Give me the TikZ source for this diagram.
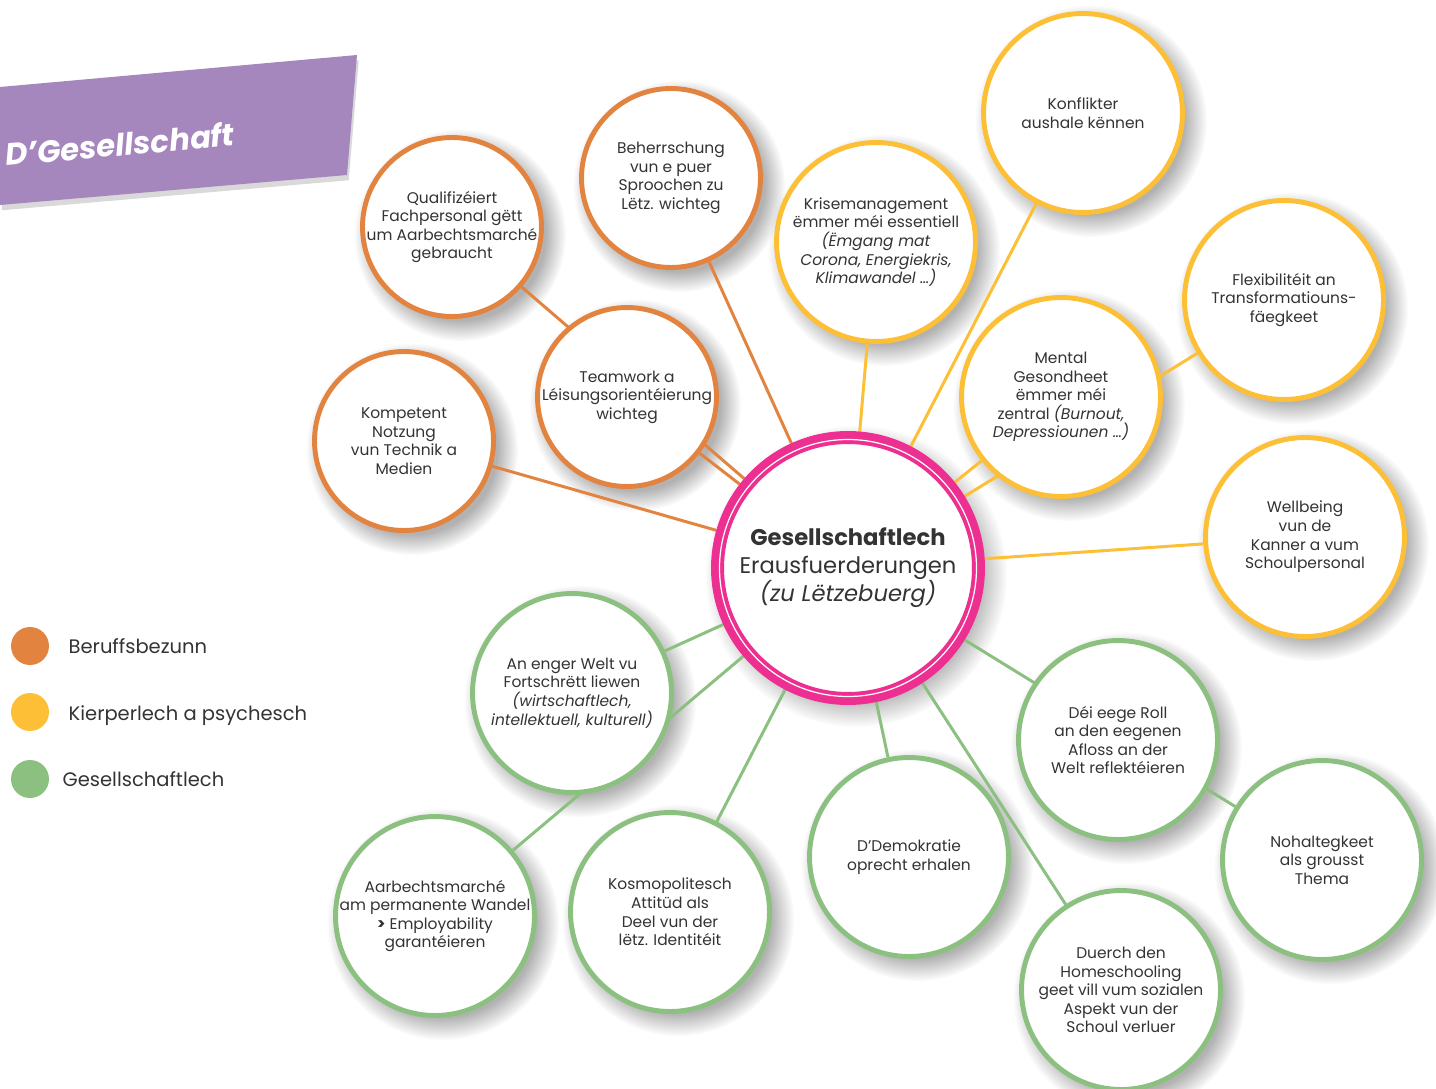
\documentclass[tikz,border=0pt]{standalone}
\usepackage{fontspec}
\setmainfont{Poppins}
\usetikzlibrary{positioning,shadows,fadings}

\definecolor{beruf}{HTML}{E2833F}
\definecolor{kierper}{HTML}{FDBF36}
\definecolor{gesell}{HTML}{8BC081}
\definecolor{centrepink}{HTML}{EC2F90}
\definecolor{bannerlila}{HTML}{A587BE}
\definecolor{textgrey}{HTML}{333333}

\pgfdeclarelayer{shadowlayer}
\pgfdeclarelayer{linelayer}
\pgfsetlayers{shadowlayer,linelayer,main}

\begin{document}
\begin{tikzpicture}[
        x=0.02cm, y=-0.02cm,
        bubble/.style={circle, fill=white, line width=2.8pt, text=textgrey, align=center, inner sep=-8pt, font=\fontsize{8.8}{10.6}\selectfont},
        berufbubble/.style={bubble, draw=beruf, minimum size=3.58cm},
        kierperbubble/.style={bubble, draw=kierper, minimum size=3.98cm},
        gesellbubble/.style={bubble, draw=gesell, minimum size=3.98cm},
        centrebubble/.style={circle, fill=white, draw=centrepink, line width=7.4pt, text=textgrey, align=center, minimum size=5.22cm, font=\fontsize{12.9}{16}\selectfont},
        link/.style={line width=1.7pt},
        softshadow/.style={fill=black, opacity=0.3, path fading=circle with fuzzy edge 20 percent},
        legenddot/.style={circle, minimum size=0.76cm, inner sep=0pt},
        legendtext/.style={text=textgrey, inner sep=0pt, font=\fontsize{11.1}{13}\selectfont}
    ]
    \useasboundingbox (0,0) rectangle (1436,1088);

    % title banner
    \fill[bannerlila, drop shadow={opacity=0.3, shadow xshift=1pt, shadow yshift=-3pt}] (0,87) -- (357,55) -- (347,175) -- (0,205) -- cycle;
    \node[text=white, rotate=5, font=\fontsize{17.5}{20}\selectfont\bfseries\itshape] (title) at (120,144) {D’Gesellschaft};

    % legend
    \node[legenddot, fill=beruf] (legberuf) at (30,646) {};
    \node[legenddot, fill=kierper] (legkierper) at (30,712) {};
    \node[legenddot, fill=gesell] (leggesell) at (30,779) {};
    \node[legendtext, right=0.38cm of legberuf] (legberuftext) {Beruffsbezunn};
    \node[legendtext, right=0.38cm of legkierper, yshift=-2pt] (legkierpertext) {Kierperlech a psychesch};
    \node[legendtext, right=0.26cm of leggesell] (leggeselltext) {Gesellschaftlech};

    % centre
    \node[centrebubble] (centre) at (848,568) {\textbf{Gesellschaftlech}\\Erausfuerderungen\\\textit{(zu Lëtzebuerg)}};
    \draw[white, line width=0.7pt] (centre.center) circle[radius=128.5];

    % Beruffsbezunn
    \node[berufbubble] (qualif) at (452,227) {Qualifizéiert\\Fachpersonal gëtt\\um Aarbechtsmarché\\gebraucht};
    \node[berufbubble] (beherr) at (671,178) {Beherrschung\\vun e puer\\Sproochen zu\\Lëtz. wichteg};
    \node[berufbubble] (team) at (627,397) {Teamwork a\\Léisungsorientéierung\\wichteg};
    \node[berufbubble] (kompetent) at (404,441) {Kompetent\\Notzung\\vun Technik a\\Medien};

    % Kierperlech a psychesch
    \node[kierperbubble] (konflikter) at (1083,113) {Konflikter\\aushale kënnen};
    \node[kierperbubble] (krise) at (876,242) {Krisemanagement\\ëmmer méi essentiell\\\textit{(Ëmgang mat}\\\textit{Corona, Energiekris,}\\\textit{Klimawandel …)}};
    \node[kierperbubble] (flex) at (1284,300) {Flexibilitéit an\\Transformatiouns-\\fäegkeet};
    \node[kierperbubble] (mental) at (1061,397) {Mental\\Gesondheet\\ëmmer méi\\zentral \textit{(Burnout,}\\\textit{Depressiounen …)}};
    \node[kierperbubble] (wellbeing) at (1305,537) {Wellbeing\\vun de\\Kanner a vum\\Schoulpersonal};

    % Gesellschaftlech
    \node[gesellbubble] (anenger) at (572,693) {An enger Welt vu\\Fortschrëtt liewen\\\textit{(wirtschaftlech,}\\\textit{intellektuell, kulturell)}};
    \node[gesellbubble] (aarbecht) at (435,916) {Aarbechtsmarché\\am permanente Wandel\\\textbf{>} Employability\\garantéieren};
    \node[gesellbubble] (kosmo) at (670,912) {Kosmopolitesch\\Attitüd als\\Deel vun der\\lëtz. Identitéit};
    \node[gesellbubble] (demokratie) at (909,857) {D’Demokratie\\oprecht erhalen};
    \node[gesellbubble] (deieege) at (1118,740) {Déi eege Roll\\an den eegenen\\Afloss an der\\Welt reflektéieren};
    \node[gesellbubble] (nohalt) at (1322,860) {Nohaltegkeet\\als grousst\\Thema};
    \node[gesellbubble] (duerch) at (1121,990) {Duerch den\\Homeschooling\\geet vill vum sozialen\\Aspekt vun der\\Schoul verluer};

    % connectors behind the bubbles
    \begin{pgfonlayer}{linelayer}
        \foreach \n in {qualif,beherr,team,kompetent}
            \draw[link, beruf] (\n) -- (centre);
        \foreach \n in {konflikter,krise,flex,mental,wellbeing}
            \draw[link, kierper] (\n) -- (centre);
        \foreach \n in {anenger,aarbecht,kosmo,demokratie,duerch,nohalt}
            \draw[link, gesell] (\n) -- (centre);
    \end{pgfonlayer}

    % soft shadows
    \begin{pgfonlayer}{shadowlayer}
        \foreach \n/\r in {qualif/92,beherr/92,team/92,kompetent/92,konflikter/102,krise/102,flex/102,mental/102,wellbeing/102,anenger/102,aarbecht/102,kosmo/102,demokratie/102,deieege/102,nohalt/102,duerch/102,centre/137}
            \fill[softshadow] ([shift={(8,8)}]\n.center) circle[radius=\r+14];
    \end{pgfonlayer}

\end{tikzpicture}
\end{document}
